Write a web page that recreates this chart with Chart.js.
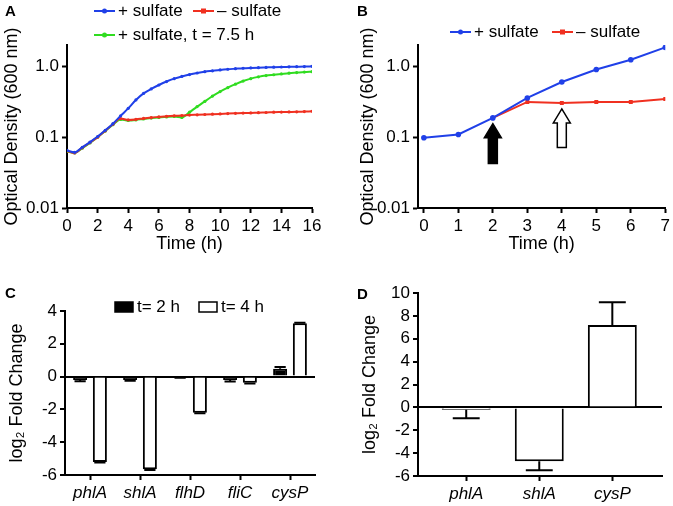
<!DOCTYPE html>
<html>
<head>
<meta charset="utf-8">
<script src="https://cdn.jsdelivr.net/npm/chart.js@4.4.1/dist/chart.umd.min.js"></script>
<style>
  body { margin: 0; background: #fff; }
  #fig { position: relative; width: 673px; height: 506px; overflow: hidden; }
  .panel { position: absolute; }
  .tag { position: absolute; font: bold 15px 'Liberation Sans', Arial, sans-serif; line-height: 15px; color: #000; }
</style>
</head>
<body>
<div id="fig">
  <canvas id="chartA" class="panel" width="340" height="260" style="left:0;top:0"></canvas>
  <canvas id="chartB" class="panel" width="333" height="260" style="left:340px;top:0"></canvas>
  <canvas id="chartC" class="panel" width="340" height="256" style="left:0;top:250px"></canvas>
  <canvas id="chartD" class="panel" width="333" height="256" style="left:340px;top:250px"></canvas>
  <div class="tag" style="left:5px;top:3px">A</div>
  <div class="tag" style="left:357px;top:3px">B</div>
  <div class="tag" style="left:5px;top:285px">C</div>
  <div class="tag" style="left:357px;top:286px">D</div>
</div>
<script>
// panel A: growth curves (OD600)
var timeA = [0, 0.5, 1, 1.5, 2, 2.5, 3, 3.5, 4, 4.5, 5, 5.5, 6, 6.5, 7, 7.5, 8,
             8.5, 9, 9.5, 10, 10.5, 11, 11.5, 12, 12.5, 13, 13.5, 14, 14.5, 15, 15.5, 16];
var plusSulfateA = [0.065, 0.061, 0.072, 0.085, 0.102, 0.125, 0.155, 0.2, 0.255, 0.335, 0.415, 0.48, 0.545,
                    0.61, 0.67, 0.72, 0.765, 0.805, 0.84, 0.865, 0.89, 0.91, 0.925, 0.94, 0.95, 0.958,
                    0.965, 0.972, 0.978, 0.983, 0.988, 0.993, 1.0];
var minusSulfateA = [0.064, 0.06, 0.071, 0.084, 0.1, 0.123, 0.152, 0.183, 0.175, 0.178, 0.184, 0.189, 0.193,
                     0.197, 0.2, 0.202, 0.205, 0.207, 0.209, 0.211, 0.213, 0.215, 0.217, 0.219, 0.22, 0.222,
                     0.223, 0.225, 0.226, 0.227, 0.228, 0.23, 0.232];
var lateSulfateA = [0.063, 0.06, 0.07, 0.083, 0.1, 0.122, 0.15, 0.178, 0.172, 0.175, 0.181, 0.186, 0.19,
                    0.193, 0.196, 0.19, 0.225, 0.27, 0.32, 0.38, 0.44, 0.5, 0.56, 0.62, 0.67, 0.71,
                    0.74, 0.76, 0.78, 0.8, 0.815, 0.83, 0.84];

// panel B: sampling culture
var timeB = [0, 1, 2, 3, 4, 5, 6, 7];
var plusSulfateB = [0.098, 0.109, 0.187, 0.358, 0.60, 0.90, 1.24, 1.85];
var minusSulfateB = [null, null, 0.187, 0.314, 0.304, 0.314, 0.314, 0.346];
var arrowTimes = [2, 4];
var arrowTips = [0.155, 0.25];
var arrowBases = [0.0426, 0.0713];
var arrowFills = ['#000', '#fff'];

var odTicks = [0.01, 0.1, 1];
var odTickLabels = ['0.01', '0.1', '1.0'];

// panel C: qRT-PCR at 2 h and 4 h
var genesC = ['phlA', 'shlA', 'flhD', 'fliC', 'cysP'];
var fold2h = [-0.2, -0.2, -0.05, -0.2, 0.48];
var fold2hErr = [0.08, 0.06, 0.02, 0.1, 0.1];
var fold4h = [-5.2, -5.65, -2.2, -0.38, 3.25];
var fold4hErr = [0.04, 0.04, 0.04, 0.04, 0.04];

// panel D
var genesD = ['phlA', 'shlA', 'cysP'];
var foldD = [-0.2, -4.7, 7.2];
var foldDErr = [0.75, 0.8, 2.0];

var BLUE = '#2040e8';
var RED = '#f03020';
var GREEN = '#30dc20';
var FONT = "'Liberation Sans', Arial, sans-serif";

Chart.defaults.font.family = FONT;
Chart.defaults.font.size = 17;
Chart.defaults.color = '#000';

function axisGrid() {
    return { drawOnChartArea: false, tickLength: 5, tickWidth: 2, tickColor: '#000' };
}
function axisBorder() {
    return { color: '#000', width: 2 };
}
function axisTitle(text) {
    return { display: true, text: text, padding: 0, font: { size: 18 } };
}

function makeLegend(items) {
    return {
        id: 'panelLegend',
        afterDraw: function(chart) {
            var ctx = chart.ctx;
            ctx.save();
            ctx.font = '17px ' + FONT;
            ctx.textBaseline = 'middle';
            items.forEach(function(it) {
                var textX;
                if (it.marker === 'box') {
                    ctx.fillStyle = it.color;
                    ctx.fillRect(it.x, it.y - 5, 18, 10);
                    ctx.strokeStyle = '#000';
                    ctx.lineWidth = 1.5;
                    ctx.strokeRect(it.x, it.y - 5, 18, 10);
                    textX = it.x + 22;
                } else {
                    ctx.strokeStyle = it.color;
                    ctx.fillStyle = it.color;
                    ctx.lineWidth = 2;
                    ctx.beginPath();
                    ctx.moveTo(it.x, it.y);
                    ctx.lineTo(it.x + 21, it.y);
                    ctx.stroke();
                    if (it.marker === 'rect') {
                        ctx.fillRect(it.x + 8, it.y - 2.5, 5, 5);
                    } else {
                        ctx.beginPath();
                        ctx.arc(it.x + 10.5, it.y, 2.5, 0, Math.PI * 2);
                        ctx.fill();
                    }
                    textX = it.x + 24;
                }
                ctx.fillStyle = '#000';
                ctx.fillText(it.text, textX, it.y);
            });
            ctx.restore();
        }
    };
}

function makeErrorBars(errorSets, capRatio) {
    return {
        id: 'errorBars',
        afterDatasetsDraw: function(chart) {
            var ctx = chart.ctx;
            var yScale = chart.scales.y;
            ctx.save();
            ctx.strokeStyle = '#000';
            ctx.lineWidth = 2;
            errorSets.forEach(function(errs, di) {
                var meta = chart.getDatasetMeta(di);
                var values = chart.data.datasets[di].data;
                meta.data.forEach(function(bar, i) {
                    var v = typeof values[i] === 'object' ? values[i].y : values[i];
                    var end = v + (v < 0 ? -errs[i] : errs[i]);
                    var yEnd = yScale.getPixelForValue(end);
                    var half = bar.width * capRatio / 2;
                    ctx.beginPath();
                    ctx.moveTo(bar.x, bar.y);
                    ctx.lineTo(bar.x, yEnd);
                    ctx.moveTo(bar.x - half, yEnd);
                    ctx.lineTo(bar.x + half, yEnd);
                    ctx.stroke();
                });
            });
            ctx.restore();
        }
    };
}

function makeArrows() {
    return {
        id: 'arrows',
        afterDatasetsDraw: function(chart) {
            var ctx = chart.ctx;
            var xs = chart.scales.x, ys = chart.scales.y;
            ctx.save();
            arrowTimes.forEach(function(t, i) {
                var x = xs.getPixelForValue(t);
                var yTip = ys.getPixelForValue(arrowTips[i]);
                var yBase = ys.getPixelForValue(arrowBases[i]);
                var head = 14, headHalf = 8.5, shaftHalf = 4.5;
                ctx.beginPath();
                ctx.moveTo(x, yTip);
                ctx.lineTo(x + headHalf, yTip + head);
                ctx.lineTo(x + shaftHalf, yTip + head);
                ctx.lineTo(x + shaftHalf, yBase);
                ctx.lineTo(x - shaftHalf, yBase);
                ctx.lineTo(x - shaftHalf, yTip + head);
                ctx.lineTo(x - headHalf, yTip + head);
                ctx.closePath();
                ctx.fillStyle = arrowFills[i];
                ctx.fill();
                ctx.strokeStyle = '#000';
                ctx.lineWidth = 1.5;
                ctx.stroke();
            });
            ctx.restore();
        }
    };
}

function points(xs, ys) {
    return xs.map(function(x, i) { return { x: x, y: ys[i] }; });
}

function odAxis(width) {
    return {
        type: 'logarithmic',
        min: 0.01,
        max: 2,
        afterBuildTicks: function(s) { s.ticks = odTicks.map(function(v) { return { value: v }; }); },
        afterFit: function(s) { s.width = width; },
        ticks: { autoSkip: false, callback: function(v, i) { return odTickLabels[i]; } },
        grid: axisGrid(),
        border: axisBorder(),
        title: axisTitle('Optical Density (600 nm)')
    };
}

var baseOpts = {
    responsive: false,
    animation: false,
    events: []
};

// ---- A ----
new Chart(document.getElementById('chartA'), {
    type: 'line',
    data: {
        datasets: [
            { label: '+ sulfate', data: points(timeA, plusSulfateA), borderColor: BLUE, backgroundColor: BLUE },
            { label: '\u2013 sulfate', data: points(timeA, minusSulfateA), borderColor: RED, backgroundColor: RED },
            { label: '+ sulfate, t = 7.5 h', data: points(timeA, lateSulfateA), borderColor: GREEN, backgroundColor: GREEN }
        ]
    },
    options: Object.assign({}, baseOpts, {
        layout: { padding: { left: 1, right: 28, top: 45, bottom: 5 } },
        elements: {
            line: { borderWidth: 2, cubicInterpolationMode: 'monotone' },
            point: { radius: 1.6, borderWidth: 0 }
        },
        plugins: { legend: { display: false }, tooltip: { enabled: false } },
        scales: {
            x: {
                type: 'linear', min: 0, max: 16,
                ticks: { stepSize: 2, autoSkip: false },
                afterFit: function(s) { s.height = 47; },
                grid: axisGrid(),
                border: axisBorder(),
                title: axisTitle('Time (h)')
            },
            y: odAxis(66)
        }
    }),
    plugins: [makeLegend([
        { text: '+ sulfate', color: BLUE, marker: 'circle', x: 94, y: 11 },
        { text: '\u2013 sulfate', color: RED, marker: 'rect', x: 193, y: 11 },
        { text: '+ sulfate, t = 7.5 h', color: GREEN, marker: 'circle', x: 94, y: 35 }
    ])]
});

// ---- B ----
new Chart(document.getElementById('chartB'), {
    type: 'line',
    data: {
        datasets: [
            { label: '+ sulfate', data: points(timeB, plusSulfateB), borderColor: BLUE, backgroundColor: BLUE, pointStyle: 'circle', pointRadius: 2.8 },
            { label: '\u2013 sulfate', data: points(timeB, minusSulfateB), borderColor: RED, backgroundColor: RED, pointStyle: 'rect', pointRadius: 2.8 }
        ]
    },
    options: Object.assign({}, baseOpts, {
        layout: { padding: { left: 17, right: 5, top: 45, bottom: 5 } },
        elements: { line: { borderWidth: 2 }, point: { borderWidth: 0 } },
        plugins: { legend: { display: false }, tooltip: { enabled: false } },
        scales: {
            x: {
                type: 'linear', min: -0.17, max: 7,
                afterBuildTicks: function(s) { s.ticks = timeB.map(function(v) { return { value: v }; }); },
                ticks: { autoSkip: false },
                afterFit: function(s) { s.height = 47; },
                grid: axisGrid(),
                border: axisBorder(),
                title: axisTitle('Time (h)')
            },
            y: odAxis(61)
        }
    }),
    plugins: [makeArrows(), makeLegend([
        { text: '+ sulfate', color: BLUE, marker: 'circle', x: 110, y: 32 },
        { text: '\u2013 sulfate', color: RED, marker: 'rect', x: 212, y: 32 }
    ])]
});

// ---- C ----
function zeroLineGrid() {
    return {
        drawOnChartArea: true,
        color: function(c) { return c.tick && c.tick.value === 0 ? '#000' : 'rgba(0,0,0,0)'; },
        lineWidth: 2,
        tickLength: 5, tickWidth: 2, tickColor: '#000'
    };
}

new Chart(document.getElementById('chartC'), {
    type: 'bar',
    data: {
        labels: genesC,
        datasets: [
            { label: 't= 2 h', data: fold2h, backgroundColor: '#000', borderColor: '#000', borderWidth: 2 },
            { label: 't= 4 h', data: fold4h, backgroundColor: '#fff', borderColor: '#000', borderWidth: 2 }
        ]
    },
    options: Object.assign({}, baseOpts, {
        layout: { padding: { left: 6, right: 25, top: 61, bottom: 0 } },
        categoryPercentage: 0.79,
        barPercentage: 0.71,
        plugins: { legend: { display: false }, tooltip: { enabled: false } },
        scales: {
            x: {
                ticks: { font: { style: 'italic' }, autoSkip: false },
                afterFit: function(s) { s.height = 31; },
                grid: Object.assign(axisGrid(), { offset: false }),
                border: axisBorder()
            },
            y: {
                min: -6, max: 4,
                ticks: { stepSize: 2, autoSkip: false },
                afterFit: function(s) { s.width = 59; },
                grid: zeroLineGrid(),
                border: axisBorder(),
                title: axisTitle('log\u2082 Fold Change')
            }
        }
    }),
    plugins: [makeErrorBars([fold2hErr, fold4hErr], 0.8), makeLegend([
        { text: 't= 2 h', color: '#000', marker: 'box', x: 115, y: 57 },
        { text: 't= 4 h', color: '#fff', marker: 'box', x: 199, y: 57 }
    ])]
});

// ---- D ----
new Chart(document.getElementById('chartD'), {
    type: 'bar',
    data: {
        datasets: [
            { label: 'log2 fold change', data: genesD.map(function(g, i) { return { x: i + 1, y: foldD[i] }; }),
              backgroundColor: '#fff', borderColor: '#000', borderWidth: 2 }
        ]
    },
    options: Object.assign({}, baseOpts, {
        layout: { padding: { left: 19, right: 11, top: 43, bottom: 0 } },
        categoryPercentage: 1,
        barPercentage: 0.67,
        plugins: { legend: { display: false }, tooltip: { enabled: false } },
        scales: {
            x: {
                type: 'linear', min: 0.34, max: 3.68, offset: false,
                afterBuildTicks: function(s) { s.ticks = genesD.map(function(g, i) { return { value: i + 1 }; }); },
                ticks: { font: { style: 'italic' }, autoSkip: false, callback: function(v) { return genesD[v - 1]; } },
                afterFit: function(s) { s.height = 30; },
                grid: Object.assign(axisGrid(), { offset: false }),
                border: axisBorder()
            },
            y: {
                min: -6, max: 10,
                ticks: { stepSize: 2, autoSkip: false },
                afterFit: function(s) { s.width = 59; },
                grid: zeroLineGrid(),
                border: axisBorder(),
                title: axisTitle('log\u2082 Fold Change')
            }
        }
    }),
    plugins: [makeErrorBars([foldDErr], 0.55)]
});
</script>
</body>
</html>
